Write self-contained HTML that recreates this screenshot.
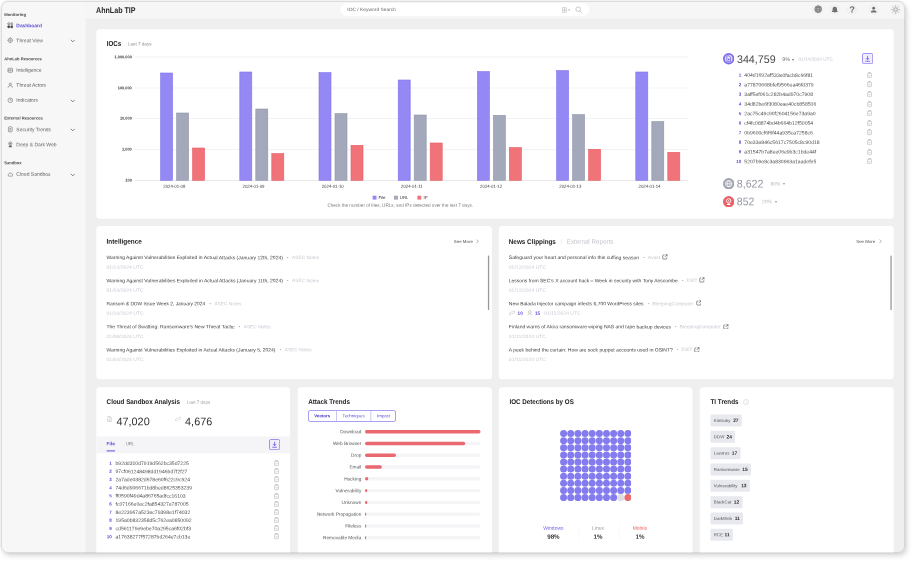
<!DOCTYPE html>
<html lang="en"><head><meta charset="utf-8"><title>AhnLab TIP</title>
<style>
html,body{margin:0;padding:0;background:#fff;}
body{width:912px;height:564px;overflow:hidden;position:relative;font-family:"Liberation Sans",sans-serif;}
#win{will-change:transform;position:absolute;left:1px;top:1px;width:904px;height:552px;background:#efefef;border-radius:7px;overflow:hidden;}
#pg{position:absolute;left:-1px;top:-1px;width:912px;height:564px;}
#shadow{position:absolute;left:1px;top:1px;width:904px;height:552px;border-radius:7px;box-shadow:2px 3px 5px rgba(0,0,0,.15),0 0 2px rgba(0,0,0,.16);}
.b{position:absolute;display:block}
.t{position:absolute;left:0;top:0;white-space:nowrap;line-height:1;transform-origin:0 0;}
#edge{position:absolute;left:1px;top:1px;width:904px;height:552px;box-sizing:border-box;border:1px solid rgba(0,0,0,.10);border-radius:7px;}
</style></head>
<body>
<div id="shadow"></div>
<div id="win"><div id="pg">
<div class="b" style="left:1px;top:1px;width:84px;height:552px;background:#f7f7f7;"></div>
<div class="b" style="left:85px;top:1px;width:1px;height:552px;background:#f3f3f3;"></div>
<div class="b" style="left:85px;top:1px;width:820px;height:17px;background:#f6f6f6;"></div>
<div class="b" style="left:85px;top:18px;width:820px;height:1px;background:#f3f3f3;"></div>
<span class="t" style="font-size:4.1px;color:#4c4c4c;font-weight:700;transform:translate(4.20px,12.90px) rotate(.03deg) scaleX(1.0304);">Monitoring</span>
<span class="t" style="font-size:5.0px;color:#5b4fd6;font-weight:700;transform:translate(16.35px,23.25px) rotate(.03deg) scaleX(0.9799);">Dashboard</span>
<svg class="b" style="left:6.900px;top:22.10px" width="6.600" height="6.600" viewBox="0 0 16 16" fill="none" stroke="#444" stroke-width="1.400"><circle cx="4.300" cy="4.300" r="2.500"/><circle cx="11.700" cy="4.300" r="2.500"/><rect x="2" y="9.400" width="4.600" height="4.600" rx="1" fill="#444"/><rect x="9.400" y="9.400" width="4.600" height="4.600" rx="1" fill="#444"/></svg>
<span class="t" style="font-size:5.0px;color:#5f5f5f;transform:translate(16.35px,38.26px) rotate(.03deg);">Threat View</span>
<svg class="b" style="left:69.6px;top:37.90px" width="5.600" height="5.600" viewBox="0 0 10 10"><path d="M1.500 3.300 L5 6.900 L8.500 3.300" fill="none" stroke="#5a5a5a" stroke-width="1.300"/></svg>
<svg class="b" style="left:6.900px;top:37.10px" width="6.600" height="6.600" viewBox="0 0 16 16" fill="none" stroke="#6a6a6a" stroke-width="1.400"><circle cx="8" cy="8" r="5.200"/><circle cx="8" cy="8" r="1.800"/><path d="M8 1v2M8 13v2M1 8h2M13 8h2"/></svg>
<span class="t" style="font-size:4.1px;color:#4c4c4c;font-weight:700;transform:translate(4.20px,57.30px) rotate(.03deg) scaleX(1.0077);">AhnLab Resources</span>
<span class="t" style="font-size:5.0px;color:#5f5f5f;transform:translate(16.35px,67.86px) rotate(.03deg);">Intelligence</span>
<svg class="b" style="left:6.900px;top:66.70px" width="6.600" height="6.600" viewBox="0 0 16 16" fill="none" stroke="#6a6a6a" stroke-width="1.400"><rect x="3" y="3" width="10" height="10" rx="1.500"/><circle cx="8" cy="8" r="2"/><path d="M1.500 5h1.500M1.500 8h1.500M1.500 11h1.500M13 5h1.500M13 8h1.500M13 11h1.500"/></svg>
<span class="t" style="font-size:5.0px;color:#5f5f5f;transform:translate(16.35px,82.86px) rotate(.03deg);">Threat Actors</span>
<svg class="b" style="left:6.900px;top:81.70px" width="6.600" height="6.600" viewBox="0 0 16 16" fill="none" stroke="#6a6a6a" stroke-width="1.400"><circle cx="8" cy="5.200" r="2.700"/><path d="M2.500 14c0-3.200 2.500-5 5.500-5s5.500 1.800 5.500 5"/></svg>
<span class="t" style="font-size:5.0px;color:#5f5f5f;transform:translate(16.35px,97.86px) rotate(.03deg);">Indicators</span>
<svg class="b" style="left:69.6px;top:97.50px" width="5.600" height="5.600" viewBox="0 0 10 10"><path d="M1.500 3.300 L5 6.900 L8.500 3.300" fill="none" stroke="#5a5a5a" stroke-width="1.300"/></svg>
<svg class="b" style="left:6.900px;top:96.70px" width="6.600" height="6.600" viewBox="0 0 16 16" fill="none" stroke="#6a6a6a" stroke-width="1.400"><circle cx="8" cy="8" r="5.600"/><path d="M8 8V4.500M8 8h3"/></svg>
<span class="t" style="font-size:4.1px;color:#4c4c4c;font-weight:700;transform:translate(4.20px,116.40px) rotate(.03deg) scaleX(1.0122);">External Resources</span>
<span class="t" style="font-size:5.0px;color:#5f5f5f;transform:translate(16.35px,127.16px) rotate(.03deg);">Security Trends</span>
<svg class="b" style="left:69.6px;top:126.80px" width="5.600" height="5.600" viewBox="0 0 10 10"><path d="M1.500 3.300 L5 6.900 L8.500 3.300" fill="none" stroke="#5a5a5a" stroke-width="1.300"/></svg>
<svg class="b" style="left:6.900px;top:126.00px" width="6.600" height="6.600" viewBox="0 0 16 16" fill="none" stroke="#6a6a6a" stroke-width="1.400"><rect x="3.500" y="2" width="9" height="12" rx="1.500"/><path d="M6 6h4M6 9h4M6 11.500h2.500"/></svg>
<span class="t" style="font-size:5.0px;color:#5f5f5f;transform:translate(16.35px,142.26px) rotate(.03deg);">Deep &amp; Dark Web</span>
<svg class="b" style="left:6.900px;top:141.10px" width="6.600" height="6.600" viewBox="0 0 16 16" fill="none" stroke="#6a6a6a" stroke-width="1.400"><circle cx="8" cy="6.300" r="4"/><circle cx="8" cy="6.300" r="1.300" fill="#6a6a6a"/><path d="M4.500 14.500c.5-2.200 1.800-3.400 3.500-3.400s3 1.200 3.500 3.400z" fill="#6a6a6a"/></svg>
<span class="t" style="font-size:4.1px;color:#4c4c4c;font-weight:700;transform:translate(4.20px,161.20px) rotate(.03deg) scaleX(1.0002);">Sandbox</span>
<span class="t" style="font-size:5.0px;color:#5f5f5f;transform:translate(16.35px,171.86px) rotate(.03deg);">Cloud Sandbox</span>
<svg class="b" style="left:69.6px;top:171.50px" width="5.600" height="5.600" viewBox="0 0 10 10"><path d="M1.500 3.300 L5 6.900 L8.500 3.300" fill="none" stroke="#5a5a5a" stroke-width="1.300"/></svg>
<svg class="b" style="left:6.900px;top:170.70px" width="6.600" height="6.600" viewBox="0 0 16 16" fill="none" stroke="#6a6a6a" stroke-width="1.400"><path d="M4.600 12.500h7a2.700 2.700 0 0 0 .4-5.400 4 4 0 0 0-7.700 1A2.300 2.300 0 0 0 4.600 12.500z"/></svg>
<span class="t" style="font-size:8.3px;color:#2a2a2a;font-weight:700;transform:translate(96.00px,5.60px) rotate(.03deg) scaleX(0.8591);">AhnLab TIP</span>
<svg class="b" style="left:340px;top:3px" width="250" height="13"><rect x="0.60" y="0.10" width="248.60" height="12.80" rx="6.4" fill="#fff"/></svg>
<span class="t" style="font-size:4.7px;color:#666;transform:translate(347.30px,8.04px) rotate(.03deg) scaleX(1.0442);">IOC / Keyword Search</span>
<svg class="b" style="left:561.500px;top:6.700px" width="9" height="6" viewBox="0 0 18 12" fill="none" stroke="#bbb" stroke-width="1"><rect x="1" y="1.500" width="8" height="9"/><path d="M1 4.500h8M1 7.500h8M5 1.500v9"/><path d="M12 5l2.200 2.600L16.400 5z" fill="#999" stroke="none"/></svg>
<svg class="b" style="left:575px;top:5.700px" width="7.500" height="7.500" viewBox="0 0 15 15" fill="none" stroke="#aaa" stroke-width="1.200"><circle cx="6.300" cy="6.300" r="4.600"/><path d="M9.800 9.800L13.800 13.800"/></svg>
<svg class="b" style="left:812px;top:3px" width="12" height="12"><rect x="0.30" y="0.90" width="11.00" height="11.00" rx="5.5" fill="#f1f1f1"/></svg>
<svg class="b" style="left:829px;top:3px" width="12" height="12"><rect x="0.30" y="0.90" width="11.00" height="11.00" rx="5.5" fill="#f1f1f1"/></svg>
<svg class="b" style="left:846px;top:3px" width="12" height="12"><rect x="0.50" y="0.90" width="11.00" height="11.00" rx="5.5" fill="#f1f1f1"/></svg>
<svg class="b" style="left:868px;top:3px" width="12" height="12"><rect x="0.20" y="0.90" width="11.00" height="11.00" rx="5.5" fill="#f1f1f1"/></svg>
<svg class="b" style="left:890px;top:3px" width="12" height="12"><rect x="0.10" y="0.90" width="11.00" height="11.00" rx="5.5" fill="#f1f1f1"/></svg>
<svg class="b" style="left:813.700px;top:5.100px" width="8.400" height="8.400" viewBox="0 0 16 16" fill="none" stroke="#7a7a7a" stroke-width="1.500"><circle cx="8" cy="8" r="6.400" fill="#bdbdbd"/><ellipse cx="8" cy="8" rx="2.900" ry="6.400"/><path d="M1.600 8h12.800M2.500 4.600h11M2.500 11.400h11"/></svg>
<svg class="b" style="left:831px;top:5.500px" width="7.600" height="7.800" viewBox="0 0 16 16" fill="#707070"><path d="M8 1.200a4.600 4.600 0 0 0-4.600 4.600v3.400L1.900 11.600v.9h12.200v-.9l-1.500-2.400V5.800A4.600 4.600 0 0 0 8 1.200zM6.400 13.400a1.600 1.600 0 0 0 3.200 0z"/></svg>
<span class="t" style="font-size:8.8px;color:#6a6a6a;font-weight:700;transform-origin:50% 0;transform:translate(852.20px,5.43px) translate(-50%,0) rotate(.03deg);">?</span>
<svg class="b" style="left:870px;top:5.700px" width="7.400" height="7.400" viewBox="0 0 16 16" fill="#707070"><circle cx="8" cy="4.800" r="3.100"/><path d="M1.800 14.200c0-3.300 2.800-5 6.200-5s6.200 1.700 6.200 5z"/></svg>
<svg class="b"  style="left:891.100px;top:4.800px" width="9.200" height="9.200" viewBox="0 0 16 16" fill="none" stroke="#999" stroke-width="1.300"><circle cx="8" cy="8" r="3.300" fill="#e4e4e4"/><path d="M8 .6v2.200M8 13.200v2.200M.6 8h2.200M13.200 8h2.200M2.800 2.800l1.500 1.500M11.700 11.700l1.500 1.500M2.800 13.200l1.500-1.500M11.700 4.300l1.500-1.500"/></svg>
<svg class="b" style="left:96px;top:29px" width="798" height="190"><rect x="0.30" y="0.30" width="797.40" height="189.50" rx="3.5" fill="#fff"/></svg>
<svg class="b" style="left:96px;top:226px" width="396" height="154"><rect x="0.30" y="0.10" width="395.60" height="153.20" rx="3.5" fill="#fff"/></svg>
<svg class="b" style="left:498px;top:226px" width="396" height="154"><rect x="0.80" y="0.10" width="394.90" height="153.20" rx="3.5" fill="#fff"/></svg>
<svg class="b" style="left:96px;top:387px" width="195" height="173"><rect x="0.30" y="0.20" width="193.80" height="172.80" rx="3.5" fill="#fff"/></svg>
<svg class="b" style="left:297px;top:387px" width="195" height="173"><rect x="0.70" y="0.20" width="194.20" height="172.80" rx="3.5" fill="#fff"/></svg>
<svg class="b" style="left:498px;top:387px" width="195" height="173"><rect x="0.80" y="0.20" width="193.60" height="172.80" rx="3.5" fill="#fff"/></svg>
<svg class="b" style="left:699px;top:387px" width="195" height="173"><rect x="0.70" y="0.20" width="194.00" height="172.80" rx="3.5" fill="#fff"/></svg>
<span class="t" style="font-size:7.3px;color:#222;font-weight:700;transform:translate(106.70px,40.12px) rotate(.03deg) scaleX(0.8455);">IOCs</span>
<span class="t" style="font-size:4.6px;color:#8a8a8a;transform:translate(128.00px,42.44px) rotate(.03deg);">Last 7 days</span>
<span class="t" style="font-size:3.9px;color:#333;font-weight:700;transform-origin:100% 0;transform:translate(131.80px,55.27px) translate(-100%,0) rotate(.03deg);">1,000,000</span>
<svg class="b" style="left:135px;top:56px" width="553" height="2"><rect x="0.00" y="0.75" width="553.00" height="0.50" fill="#e6e6e6"/></svg>
<span class="t" style="font-size:3.9px;color:#333;font-weight:700;transform-origin:100% 0;transform:translate(131.80px,86.27px) translate(-100%,0) rotate(.03deg);">100,000</span>
<svg class="b" style="left:135px;top:87px" width="553" height="2"><rect x="0.00" y="0.75" width="553.00" height="0.50" fill="#e6e6e6"/></svg>
<span class="t" style="font-size:3.9px;color:#333;font-weight:700;transform-origin:100% 0;transform:translate(131.80px,116.57px) translate(-100%,0) rotate(.03deg);">10,000</span>
<svg class="b" style="left:135px;top:118px" width="553" height="1"><rect x="0.00" y="0.05" width="553.00" height="0.50" fill="#e6e6e6"/></svg>
<span class="t" style="font-size:3.9px;color:#333;font-weight:700;transform-origin:100% 0;transform:translate(131.80px,147.57px) translate(-100%,0) rotate(.03deg);">1,000</span>
<svg class="b" style="left:135px;top:149px" width="553" height="1"><rect x="0.00" y="0.05" width="553.00" height="0.50" fill="#e6e6e6"/></svg>
<span class="t" style="font-size:3.9px;color:#333;font-weight:700;transform-origin:100% 0;transform:translate(131.80px,178.57px) translate(-100%,0) rotate(.03deg);">100</span>
<svg class="b" style="left:135px;top:180px" width="553" height="1"><rect x="0.00" y="0.05" width="553.00" height="0.50" fill="#d0d0d0"/></svg>
<span class="t" style="font-size:4.3px;color:#333;transform-origin:50% 0;transform:translate(174.30px,184.70px) translate(-50%,0) rotate(.03deg);">2024-01-08</span>
<span class="t" style="font-size:4.3px;color:#333;transform-origin:50% 0;transform:translate(253.50px,184.70px) translate(-50%,0) rotate(.03deg);">2024-01-09</span>
<span class="t" style="font-size:4.3px;color:#333;transform-origin:50% 0;transform:translate(332.70px,184.70px) translate(-50%,0) rotate(.03deg);">2024-01-10</span>
<span class="t" style="font-size:4.3px;color:#333;transform-origin:50% 0;transform:translate(411.90px,184.70px) translate(-50%,0) rotate(.03deg);">2024-01-11</span>
<span class="t" style="font-size:4.3px;color:#333;transform-origin:50% 0;transform:translate(491.10px,184.70px) translate(-50%,0) rotate(.03deg);">2024-01-12</span>
<span class="t" style="font-size:4.3px;color:#333;transform-origin:50% 0;transform:translate(570.30px,184.70px) translate(-50%,0) rotate(.03deg);">2024-01-13</span>
<span class="t" style="font-size:4.3px;color:#333;transform-origin:50% 0;transform:translate(649.50px,184.70px) translate(-50%,0) rotate(.03deg);">2024-01-14</span>
<svg class="b" style="left:0;top:0" width="912" height="200"><rect x="160.60" y="73.00" width="12" height="107.30" fill="#9488f5" stroke="#7f72ee" stroke-width="0.600"/><rect x="176.60" y="113.00" width="12" height="67.30" fill="#a3a8ba" stroke="#9096aa" stroke-width="0.600"/><rect x="192.60" y="148.00" width="12" height="32.30" fill="#f07379" stroke="#e85a62" stroke-width="0.600"/><rect x="239.80" y="72.00" width="12" height="108.30" fill="#9488f5" stroke="#7f72ee" stroke-width="0.600"/><rect x="255.80" y="109.00" width="12" height="71.30" fill="#a3a8ba" stroke="#9096aa" stroke-width="0.600"/><rect x="271.80" y="153.60" width="12" height="26.70" fill="#f07379" stroke="#e85a62" stroke-width="0.600"/><rect x="319.00" y="72.60" width="12" height="107.70" fill="#9488f5" stroke="#7f72ee" stroke-width="0.600"/><rect x="335.00" y="113.60" width="12" height="66.70" fill="#a3a8ba" stroke="#9096aa" stroke-width="0.600"/><rect x="351.00" y="145.30" width="12" height="35.00" fill="#f07379" stroke="#e85a62" stroke-width="0.600"/><rect x="398.20" y="80.00" width="12" height="100.30" fill="#9488f5" stroke="#7f72ee" stroke-width="0.600"/><rect x="414.20" y="115.00" width="12" height="65.30" fill="#a3a8ba" stroke="#9096aa" stroke-width="0.600"/><rect x="430.20" y="143.00" width="12" height="37.30" fill="#f07379" stroke="#e85a62" stroke-width="0.600"/><rect x="477.40" y="71.60" width="12" height="108.70" fill="#9488f5" stroke="#7f72ee" stroke-width="0.600"/><rect x="493.40" y="115.30" width="12" height="65.00" fill="#a3a8ba" stroke="#9096aa" stroke-width="0.600"/><rect x="509.40" y="147.60" width="12" height="32.70" fill="#f07379" stroke="#e85a62" stroke-width="0.600"/><rect x="556.60" y="70.60" width="12" height="109.70" fill="#9488f5" stroke="#7f72ee" stroke-width="0.600"/><rect x="572.60" y="114.60" width="12" height="65.70" fill="#a3a8ba" stroke="#9096aa" stroke-width="0.600"/><rect x="588.60" y="149.30" width="12" height="31.00" fill="#f07379" stroke="#e85a62" stroke-width="0.600"/><rect x="635.80" y="72.00" width="12" height="108.30" fill="#9488f5" stroke="#7f72ee" stroke-width="0.600"/><rect x="651.80" y="121.60" width="12" height="58.70" fill="#a3a8ba" stroke="#9096aa" stroke-width="0.600"/><rect x="667.80" y="152.30" width="12" height="28.00" fill="#f07379" stroke="#e85a62" stroke-width="0.600"/></svg>
<svg class="b" style="left:372px;top:195px" width="5" height="5"><rect x="0.60" y="0.70" width="3.90" height="3.90" fill="#9488f5"/></svg>
<span class="t" style="font-size:4.3px;color:#333;transform:translate(378.40px,196.10px) rotate(.03deg);">File</span>
<svg class="b" style="left:394px;top:195px" width="4" height="5"><rect x="0.00" y="0.70" width="3.90" height="3.90" fill="#a3a8ba"/></svg>
<span class="t" style="font-size:4.3px;color:#333;transform:translate(399.80px,196.10px) rotate(.03deg);">URL</span>
<svg class="b" style="left:417px;top:195px" width="5" height="5"><rect x="0.40" y="0.70" width="3.90" height="3.90" fill="#f07379"/></svg>
<span class="t" style="font-size:4.3px;color:#333;transform:translate(423.50px,196.10px) rotate(.03deg);">IP</span>
<span class="t" style="font-size:4.6px;color:#777;transform:translate(327.40px,203.74px) rotate(.03deg) scaleX(1.0004);">Check the number of files, URLs, and IPs detected over the last 7 days.</span>
<svg class="b" style="left:722.90px;top:53.30px" width="11.4" height="11.4" viewBox="0 0 20 20"><circle cx="10" cy="10" r="10" fill="#7a6bea"/><circle cx="10" cy="10" r="6.800" fill="#ddd8fa"/><path d="M6.800 5h3.800l2.600 2.600v7.400h-6.400z" fill="#efecfd" stroke="#6a5be0" stroke-width="1.300"/><circle cx="10" cy="11.300" r="1.500" fill="#6a5be0"/></svg>
<span class="t" style="font-size:11px;color:#484848;transform:translate(737.00px,53.88px) rotate(.03deg) scaleX(0.9707);">344,759</span>
<span class="t" style="font-size:5.3px;color:#6a6a6a;transform:translate(782.30px,56.98px) rotate(.03deg);">9%</span>
<span class="t" style="font-size:4px;color:#777;transform:translate(791.80px,57.67px) rotate(.03deg);">▾</span>
<span class="t" style="font-size:4.6px;color:#c6c7d1;transform:translate(798.50px,57.74px) rotate(.03deg) scaleX(1.0172);">01/14/2024 UTC</span>
<svg class="b" style="left:861.70px;top:53.20px" width="11.2" height="11.2" viewBox="0 0 22 22"><rect x="1" y="1" width="20" height="20" rx="2.500" fill="#f1effd" stroke="#7a6bea" stroke-width="1.400"/><path d="M11 5.500v7.500M7.800 10l3.200 3.300 3.200-3.300M6.500 16.200h9" fill="none" stroke="#5b4fd6" stroke-width="1.500"/></svg>
<span class="t" style="font-size:4.5px;color:#5b4fd6;font-weight:700;transform-origin:100% 0;transform:translate(741.30px,73.61px) translate(-100%,0) rotate(.03deg);">1</span>
<span class="t" style="font-size:5.1px;color:#505050;transform:translate(744.30px,72.86px) rotate(.03deg);">404d1692af533e0facb8c66f81</span>
<svg class="b" style="left:866.90px;top:71.90px" width="5" height="6.200" viewBox="0 0 10 12.400" fill="none" stroke="#a2a2a2" stroke-width="1"><rect x="1.200" y="2.400" width="7.600" height="9" rx="1.200"/><path d="M3.200 2.400V1.100h3.600v1.300M3.300 7.200l1.300 1.300L6.900 6"/></svg>
<span class="t" style="font-size:4.5px;color:#5b4fd6;font-weight:700;transform-origin:100% 0;transform:translate(741.30px,83.20px) translate(-100%,0) rotate(.03deg);">2</span>
<span class="t" style="font-size:5.1px;color:#505050;transform:translate(744.30px,82.45px) rotate(.03deg);">a77870668bfef9566ea46fd379</span>
<svg class="b" style="left:866.90px;top:81.49px" width="5" height="6.200" viewBox="0 0 10 12.400" fill="none" stroke="#a2a2a2" stroke-width="1"><rect x="1.200" y="2.400" width="7.600" height="9" rx="1.200"/><path d="M3.200 2.400V1.100h3.600v1.300M3.300 7.200l1.300 1.300L6.900 6"/></svg>
<span class="t" style="font-size:4.5px;color:#5b4fd6;font-weight:700;transform-origin:100% 0;transform:translate(741.30px,92.79px) translate(-100%,0) rotate(.03deg);">3</span>
<span class="t" style="font-size:5.1px;color:#505050;transform:translate(744.30px,92.04px) rotate(.03deg);">3aff5ef061c282b4ad970c7908</span>
<svg class="b" style="left:866.90px;top:91.08px" width="5" height="6.200" viewBox="0 0 10 12.400" fill="none" stroke="#a2a2a2" stroke-width="1"><rect x="1.200" y="2.400" width="7.600" height="9" rx="1.200"/><path d="M3.200 2.400V1.100h3.600v1.300M3.300 7.200l1.300 1.300L6.900 6"/></svg>
<span class="t" style="font-size:4.5px;color:#5b4fd6;font-weight:700;transform-origin:100% 0;transform:translate(741.30px,102.38px) translate(-100%,0) rotate(.03deg);">4</span>
<span class="t" style="font-size:5.1px;color:#505050;transform:translate(744.30px,101.63px) rotate(.03deg);">34d82be6f3080eae40cb858506</span>
<svg class="b" style="left:866.90px;top:100.67px" width="5" height="6.200" viewBox="0 0 10 12.400" fill="none" stroke="#a2a2a2" stroke-width="1"><rect x="1.200" y="2.400" width="7.600" height="9" rx="1.200"/><path d="M3.200 2.400V1.100h3.600v1.300M3.300 7.200l1.300 1.300L6.900 6"/></svg>
<span class="t" style="font-size:4.5px;color:#5b4fd6;font-weight:700;transform-origin:100% 0;transform:translate(741.30px,111.97px) translate(-100%,0) rotate(.03deg);">5</span>
<span class="t" style="font-size:5.1px;color:#505050;transform:translate(744.30px,111.22px) rotate(.03deg);">2ac75c49c90f2604156e73a9a0</span>
<svg class="b" style="left:866.90px;top:110.26px" width="5" height="6.200" viewBox="0 0 10 12.400" fill="none" stroke="#a2a2a2" stroke-width="1"><rect x="1.200" y="2.400" width="7.600" height="9" rx="1.200"/><path d="M3.200 2.400V1.100h3.600v1.300M3.300 7.200l1.300 1.300L6.900 6"/></svg>
<span class="t" style="font-size:4.5px;color:#5b4fd6;font-weight:700;transform-origin:100% 0;transform:translate(741.30px,121.56px) translate(-100%,0) rotate(.03deg);">6</span>
<span class="t" style="font-size:5.1px;color:#505050;transform:translate(744.30px,120.81px) rotate(.03deg);">cf4fc08874bd4b664b12f50054</span>
<svg class="b" style="left:866.90px;top:119.85px" width="5" height="6.200" viewBox="0 0 10 12.400" fill="none" stroke="#a2a2a2" stroke-width="1"><rect x="1.200" y="2.400" width="7.600" height="9" rx="1.200"/><path d="M3.200 2.400V1.100h3.600v1.300M3.300 7.200l1.300 1.300L6.900 6"/></svg>
<span class="t" style="font-size:4.5px;color:#5b4fd6;font-weight:700;transform-origin:100% 0;transform:translate(741.30px,131.15px) translate(-100%,0) rotate(.03deg);">7</span>
<span class="t" style="font-size:5.1px;color:#505050;transform:translate(744.30px,130.40px) rotate(.03deg);">0b9600cf6f6f44a935ca7258c6</span>
<svg class="b" style="left:866.90px;top:129.44px" width="5" height="6.200" viewBox="0 0 10 12.400" fill="none" stroke="#a2a2a2" stroke-width="1"><rect x="1.200" y="2.400" width="7.600" height="9" rx="1.200"/><path d="M3.200 2.400V1.100h3.600v1.300M3.300 7.200l1.300 1.300L6.900 6"/></svg>
<span class="t" style="font-size:4.5px;color:#5b4fd6;font-weight:700;transform-origin:100% 0;transform:translate(741.30px,140.74px) translate(-100%,0) rotate(.03deg);">8</span>
<span class="t" style="font-size:5.1px;color:#505050;transform:translate(744.30px,139.99px) rotate(.03deg);">70e33e846c5617c7505c8c90d18</span>
<svg class="b" style="left:866.90px;top:139.03px" width="5" height="6.200" viewBox="0 0 10 12.400" fill="none" stroke="#a2a2a2" stroke-width="1"><rect x="1.200" y="2.400" width="7.600" height="9" rx="1.200"/><path d="M3.200 2.400V1.100h3.600v1.300M3.300 7.200l1.300 1.300L6.900 6"/></svg>
<span class="t" style="font-size:4.5px;color:#5b4fd6;font-weight:700;transform-origin:100% 0;transform:translate(741.30px,150.33px) translate(-100%,0) rotate(.03deg);">9</span>
<span class="t" style="font-size:5.1px;color:#505050;transform:translate(744.30px,149.58px) rotate(.03deg);">a31547b7a8ee06e9b3c1bde44f</span>
<svg class="b" style="left:866.90px;top:148.62px" width="5" height="6.200" viewBox="0 0 10 12.400" fill="none" stroke="#a2a2a2" stroke-width="1"><rect x="1.200" y="2.400" width="7.600" height="9" rx="1.200"/><path d="M3.200 2.400V1.100h3.600v1.300M3.300 7.200l1.300 1.300L6.900 6"/></svg>
<span class="t" style="font-size:4.5px;color:#5b4fd6;font-weight:700;transform-origin:100% 0;transform:translate(741.30px,159.92px) translate(-100%,0) rotate(.03deg);">10</span>
<span class="t" style="font-size:5.1px;color:#505050;transform:translate(744.30px,159.17px) rotate(.03deg);">5207b9e8c3a830963a1aadefe5</span>
<svg class="b" style="left:866.90px;top:158.21px" width="5" height="6.200" viewBox="0 0 10 12.400" fill="none" stroke="#a2a2a2" stroke-width="1"><rect x="1.200" y="2.400" width="7.600" height="9" rx="1.200"/><path d="M3.200 2.400V1.100h3.600v1.300M3.300 7.200l1.300 1.300L6.900 6"/></svg>
<svg class="b" style="left:722.80px;top:177.90px" width="11.4" height="11.4" viewBox="0 0 20 20"><circle cx="10" cy="10" r="10" fill="#a0a5af"/><circle cx="10" cy="10" r="5.500" fill="none" stroke="#fff" stroke-width="1.400"/><path d="M4.500 10h11M10 4.500c-3 3-3 8 0 11M10 4.500c3 3 3 8 0 11" fill="none" stroke="#fff" stroke-width="1.100"/></svg>
<span class="t" style="font-size:11px;color:#979ba5;transform:translate(736.80px,178.48px) rotate(.03deg) scaleX(0.9698);">8,622</span>
<span class="t" style="font-size:5.0px;color:#bababa;transform:translate(770.40px,181.46px) rotate(.03deg);">80%</span>
<span class="t" style="font-size:4px;color:#999;transform:translate(783.30px,182.27px) rotate(.03deg);">▾</span>
<svg class="b" style="left:722.70px;top:195.60px" width="11.4" height="11.4" viewBox="0 0 20 20"><circle cx="10" cy="10" r="10" fill="#ea6268"/><circle cx="10" cy="8.500" r="3.800" fill="none" stroke="#fff" stroke-width="1.500"/><circle cx="10" cy="8.500" r="1.200" fill="#fff"/><path d="M6.500 16c.6-2 1.800-3 3.500-3s2.900 1 3.500 3z" fill="#fff"/></svg>
<span class="t" style="font-size:11px;color:#979ba5;transform:translate(736.80px,196.18px) rotate(.03deg) scaleX(0.9532);">852</span>
<span class="t" style="font-size:5.0px;color:#bababa;transform:translate(761.90px,199.16px) rotate(.03deg);">20%</span>
<span class="t" style="font-size:4px;color:#999;transform:translate(774.60px,199.97px) rotate(.03deg);">▾</span>
<span class="t" style="font-size:6.9px;color:#222;font-weight:700;transform:translate(106.50px,238.78px) rotate(.03deg) scaleX(0.9335);">Intelligence</span>
<span class="t" style="font-size:4.3px;color:#555;transform:translate(453.80px,239.90px) rotate(.03deg) scaleX(1.0246);">See More</span>
<svg class="b" style="left:476.10px;top:239.20px" width="3" height="4.600" viewBox="0 0 6 9"><path d="M1.200 1l3.400 3.500L1.200 8" fill="none" stroke="#666" stroke-width="1"/></svg>
<svg class="b" style="left:487px;top:255px" width="3" height="55"><rect x="0.90" y="0.60" width="1.30" height="54.40" rx="0.6" fill="#999"/></svg>
<span class="t" style="font-size:4.9px;color:#3a3a3a;transform:translate(106.50px,256.07px) rotate(.03deg) scaleX(1.0256);">Warning Against Vulnerabilities Exploited in Actual Attacks (January 12th, 2024)</span>
<span class="t" style="font-size:4px;color:#999;transform:translate(287.10px,255.77px) rotate(.03deg);">•</span>
<span class="t" style="font-size:4.7px;color:#c6c7d1;transform:translate(292.10px,256.04px) rotate(.03deg) scaleX(1.0261);">ASEC Notes</span>
<span class="t" style="font-size:4.7px;color:#c9cad3;transform:translate(106.50px,265.64px) rotate(.03deg) scaleX(1.0841);">01/12/2024 UTC</span>
<span class="t" style="font-size:4.9px;color:#3a3a3a;transform:translate(106.50px,279.15px) rotate(.03deg) scaleX(1.0277);">Warning Against Vulnerabilities Exploited in Actual Attacks (January 11th, 2024)</span>
<span class="t" style="font-size:4px;color:#999;transform:translate(287.10px,278.85px) rotate(.03deg);">•</span>
<span class="t" style="font-size:4.7px;color:#c6c7d1;transform:translate(292.10px,279.12px) rotate(.03deg) scaleX(1.0261);">ASEC Notes</span>
<span class="t" style="font-size:4.7px;color:#c9cad3;transform:translate(106.50px,288.72px) rotate(.03deg) scaleX(1.0841);">01/10/2024 UTC</span>
<span class="t" style="font-size:4.9px;color:#3a3a3a;transform:translate(106.50px,302.23px) rotate(.03deg) scaleX(0.9957);">Ransom &amp; DDW Issue Week 2, January 2024</span>
<span class="t" style="font-size:4px;color:#999;transform:translate(209.40px,301.93px) rotate(.03deg);">•</span>
<span class="t" style="font-size:4.7px;color:#c6c7d1;transform:translate(214.40px,302.20px) rotate(.03deg) scaleX(1.0261);">ASEC Notes</span>
<span class="t" style="font-size:4.7px;color:#c9cad3;transform:translate(106.50px,311.80px) rotate(.03deg) scaleX(1.0841);">01/10/2024 UTC</span>
<span class="t" style="font-size:4.9px;color:#3a3a3a;transform:translate(106.50px,325.31px) rotate(.03deg) scaleX(1.0266);">The Threat of Swatting: Ransomware’s New Threat Tactic</span>
<span class="t" style="font-size:4px;color:#999;transform:translate(238.70px,325.01px) rotate(.03deg);">•</span>
<span class="t" style="font-size:4.7px;color:#c6c7d1;transform:translate(243.70px,325.28px) rotate(.03deg) scaleX(1.0261);">ASEC Notes</span>
<span class="t" style="font-size:4.7px;color:#c9cad3;transform:translate(106.50px,334.88px) rotate(.03deg) scaleX(1.0841);">01/08/2024 UTC</span>
<span class="t" style="font-size:4.9px;color:#3a3a3a;transform:translate(106.50px,348.39px) rotate(.03deg) scaleX(1.0230);">Warning Against Vulnerabilities Exploited in Actual Attacks (January 5, 2024)</span>
<span class="t" style="font-size:4px;color:#999;transform:translate(279.70px,348.09px) rotate(.03deg);">•</span>
<span class="t" style="font-size:4.7px;color:#c6c7d1;transform:translate(284.70px,348.36px) rotate(.03deg) scaleX(1.0261);">ASEC Notes</span>
<span class="t" style="font-size:4.7px;color:#c9cad3;transform:translate(106.50px,357.96px) rotate(.03deg) scaleX(1.0841);">01/04/2024 UTC</span>
<span class="t" style="font-size:6.9px;color:#222;font-weight:700;transform:translate(508.80px,238.78px) rotate(.03deg) scaleX(0.9179);">News Clippings</span>
<svg class="b" style="left:561px;top:239px" width="1" height="5"><rect x="0.00" y="0.00" width="0.50" height="5.00" fill="#ddd"/></svg>
<span class="t" style="font-size:6.5px;color:#c4c5cd;transform:translate(566.80px,238.64px) rotate(.03deg) scaleX(0.9624);">External Reports</span>
<span class="t" style="font-size:4.3px;color:#555;transform:translate(856.20px,239.90px) rotate(.03deg) scaleX(1.0246);">See More</span>
<svg class="b" style="left:878.50px;top:239.20px" width="3" height="4.600" viewBox="0 0 6 9"><path d="M1.200 1l3.400 3.500L1.200 8" fill="none" stroke="#666" stroke-width="1"/></svg>
<svg class="b" style="left:890px;top:255px" width="2" height="55"><rect x="0.40" y="0.60" width="1.30" height="54.40" rx="0.6" fill="#999"/></svg>
<span class="t" style="font-size:4.9px;color:#3a3a3a;transform:translate(508.80px,256.07px) rotate(.03deg) scaleX(1.0284);">Safeguard your heart and personal info this cuffing season</span>
<span class="t" style="font-size:4px;color:#999;transform:translate(643.20px,255.77px) rotate(.03deg);">•</span>
<span class="t" style="font-size:4.7px;color:#c6c7d1;transform:translate(647.70px,256.04px) rotate(.03deg) scaleX(1.0738);">Avast</span>
<svg class="b" style="left:662.30px;top:254.30px" width="5.800" height="5.800" viewBox="0 0 12 12" fill="none" stroke="#444" stroke-width="1.200"><path d="M5 2H3a1.500 1.500 0 0 0-1.500 1.500v5.500A1.500 1.500 0 0 0 3 10.500h5.500A1.500 1.500 0 0 0 10 9V7"/><path d="M7 1.500h3.500V5M10.500 1.500L5.800 6.200"/></svg>
<span class="t" style="font-size:4.7px;color:#c9cad3;transform:translate(508.80px,265.64px) rotate(.03deg) scaleX(1.0841);">01/12/2024 UTC</span>
<span class="t" style="font-size:4.9px;color:#3a3a3a;transform:translate(508.80px,279.15px) rotate(.03deg) scaleX(1.0175);">Lessons from SEC’s X account hack – Week in security with Tony Anscombe</span>
<span class="t" style="font-size:4px;color:#999;transform:translate(682.00px,278.85px) rotate(.03deg);">•</span>
<span class="t" style="font-size:4.7px;color:#c6c7d1;transform:translate(686.50px,279.12px) rotate(.03deg) scaleX(0.8816);">ESET</span>
<svg class="b" style="left:699.40px;top:277.38px" width="5.800" height="5.800" viewBox="0 0 12 12" fill="none" stroke="#444" stroke-width="1.200"><path d="M5 2H3a1.500 1.500 0 0 0-1.500 1.500v5.500A1.500 1.500 0 0 0 3 10.500h5.500A1.500 1.500 0 0 0 10 9V7"/><path d="M7 1.500h3.500V5M10.500 1.500L5.800 6.200"/></svg>
<span class="t" style="font-size:4.7px;color:#c9cad3;transform:translate(508.80px,288.72px) rotate(.03deg) scaleX(1.0841);">01/12/2024 UTC</span>
<span class="t" style="font-size:4.9px;color:#3a3a3a;transform:translate(508.80px,302.23px) rotate(.03deg) scaleX(1.0182);">New Balada Injector campaign infects 6,700 WordPress sites</span>
<span class="t" style="font-size:4px;color:#999;transform:translate(647.70px,301.93px) rotate(.03deg);">•</span>
<span class="t" style="font-size:4.7px;color:#c6c7d1;transform:translate(652.20px,302.20px) rotate(.03deg) scaleX(1.0611);">BleepingComputer</span>
<svg class="b" style="left:695.50px;top:300.46px" width="5.800" height="5.800" viewBox="0 0 12 12" fill="none" stroke="#444" stroke-width="1.200"><path d="M5 2H3a1.500 1.500 0 0 0-1.500 1.500v5.500A1.500 1.500 0 0 0 3 10.500h5.500A1.500 1.500 0 0 0 10 9V7"/><path d="M7 1.500h3.500V5M10.500 1.500L5.800 6.200"/></svg>
<svg class="b" style="left:509.00px;top:310.46px" width="6" height="5.600" viewBox="0 0 12 11" fill="none" stroke="#aaa" stroke-width="1.100"><path d="M5 7.500L3.500 9a1.800 1.800 0 0 1-2.500-2.500L3 4.500a1.800 1.800 0 0 1 2.500 0M7 3.500L8.500 2a1.800 1.800 0 0 1 2.500 2.500L9 6.500a1.800 1.800 0 0 1-2.500 0"/></svg>
<span class="t" style="font-size:4.6px;color:#5b4fd6;font-weight:700;transform:translate(517.60px,311.79px) rotate(.03deg);">10</span>
<svg class="b" style="left:527.00px;top:310.36px" width="5.600" height="5.800" viewBox="0 0 11 12" fill="none" stroke="#aaa" stroke-width="1.100"><circle cx="5.500" cy="4" r="2.800"/><path d="M1.500 11c.5-2.200 2-3.300 4-3.300s3.500 1.100 4 3.300"/></svg>
<span class="t" style="font-size:4.6px;color:#5b4fd6;font-weight:700;transform:translate(535.00px,311.79px) rotate(.03deg);">15</span>
<span class="t" style="font-size:4.7px;color:#c9cad3;transform:translate(544.20px,311.80px) rotate(.03deg) scaleX(1.0716);">01/11/2024 UTC</span>
<span class="t" style="font-size:4.9px;color:#3a3a3a;transform:translate(508.80px,325.31px) rotate(.03deg) scaleX(1.0228);">Finland warns of Akira ransomware wiping NAS and tape backup devices</span>
<span class="t" style="font-size:4px;color:#999;transform:translate(675.10px,325.01px) rotate(.03deg);">•</span>
<span class="t" style="font-size:4.7px;color:#c6c7d1;transform:translate(679.60px,325.28px) rotate(.03deg) scaleX(1.0611);">BleepingComputer</span>
<svg class="b" style="left:722.90px;top:323.54px" width="5.800" height="5.800" viewBox="0 0 12 12" fill="none" stroke="#444" stroke-width="1.200"><path d="M5 2H3a1.500 1.500 0 0 0-1.500 1.500v5.500A1.500 1.500 0 0 0 3 10.500h5.500A1.500 1.500 0 0 0 10 9V7"/><path d="M7 1.500h3.500V5M10.500 1.500L5.800 6.200"/></svg>
<span class="t" style="font-size:4.7px;color:#c9cad3;transform:translate(508.80px,334.88px) rotate(.03deg) scaleX(1.0950);">01/11/2024 UTC</span>
<span class="t" style="font-size:4.9px;color:#3a3a3a;transform:translate(508.80px,348.39px) rotate(.03deg) scaleX(1.0189);">A peek behind the curtain: How are sock puppet accounts used in OSINT?</span>
<span class="t" style="font-size:4px;color:#999;transform:translate(677.00px,348.09px) rotate(.03deg);">•</span>
<span class="t" style="font-size:4.7px;color:#c6c7d1;transform:translate(681.50px,348.36px) rotate(.03deg) scaleX(0.8816);">ESET</span>
<svg class="b" style="left:694.40px;top:346.62px" width="5.800" height="5.800" viewBox="0 0 12 12" fill="none" stroke="#444" stroke-width="1.200"><path d="M5 2H3a1.500 1.500 0 0 0-1.500 1.500v5.500A1.500 1.500 0 0 0 3 10.500h5.500A1.500 1.500 0 0 0 10 9V7"/><path d="M7 1.500h3.500V5M10.500 1.500L5.800 6.200"/></svg>
<span class="t" style="font-size:4.7px;color:#c9cad3;transform:translate(508.80px,357.96px) rotate(.03deg) scaleX(1.0950);">01/11/2024 UTC</span>
<span class="t" style="font-size:6.9px;color:#222;font-weight:700;transform:translate(106.60px,399.28px) rotate(.03deg) scaleX(0.9114);">Cloud Sandbox Analysis</span>
<span class="t" style="font-size:4.6px;color:#999;transform:translate(186.70px,400.74px) rotate(.03deg) scaleX(1.0043);">Last 7 days</span>
<svg class="b" style="left:107.30px;top:416.00px" width="5" height="6" viewBox="0 0 10 12" fill="none" stroke="#bbb" stroke-width="1.100"><path d="M1.500 1h4.500l2.500 2.500V11h-7zM6 1v2.500h2.500M3.500 6.500h3M3.500 8.500h3"/></svg>
<span class="t" style="font-size:11px;color:#333;transform:translate(116.50px,416.28px) rotate(.03deg) scaleX(0.9864);">47,020</span>
<svg class="b" style="left:175.30px;top:416.00px" width="6" height="6" viewBox="0 0 12 12" fill="none" stroke="#bbb" stroke-width="1.100"><path d="M5 8L3.500 9.500a1.800 1.800 0 0 1-2.500-2.500L3 5a1.800 1.800 0 0 1 2.500 0M7 4L8.500 2.500a1.800 1.800 0 0 1 2.500 2.500L9 7a1.800 1.800 0 0 1-2.500 0"/></svg>
<span class="t" style="font-size:11px;color:#333;transform:translate(185.10px,416.28px) rotate(.03deg) scaleX(0.9843);">4,676</span>
<svg class="b" style="left:96px;top:436px" width="195" height="18"><rect x="0.30" y="0.30" width="193.80" height="17.10" fill="#f5f5f8"/></svg>
<span class="t" style="font-size:4.7px;color:#5b4fd6;font-weight:700;transform:translate(106.60px,442.33px) rotate(.03deg) scaleX(1.0275);">File</span>
<svg class="b" style="left:106px;top:450px" width="9" height="2"><rect x="0.60" y="0.40" width="8.40" height="1.00" fill="#5b4fd6"/></svg>
<span class="t" style="font-size:4.7px;color:#888;transform:translate(125.70px,442.34px) rotate(.03deg) scaleX(0.9371);">URL</span>
<svg class="b" style="left:268.90px;top:439.10px" width="11.2" height="11.2" viewBox="0 0 22 22"><rect x="1" y="1" width="20" height="20" rx="2.500" fill="#f1effd" stroke="#7a6bea" stroke-width="1.400"/><path d="M11 5.500v7.500M7.800 10l3.200 3.300 3.200-3.300M6.500 16.200h9" fill="none" stroke="#5b4fd6" stroke-width="1.500"/></svg>
<span class="t" style="font-size:4.5px;color:#5b4fd6;font-weight:700;transform-origin:100% 0;transform:translate(111.80px,461.71px) translate(-100%,0) rotate(.03deg);">1</span>
<span class="t" style="font-size:5.1px;color:#505050;transform:translate(115.50px,460.96px) rotate(.03deg);">b92dd310d7919d562bc35d7225</span>
<svg class="b" style="left:274.00px;top:460.00px" width="5" height="6.200" viewBox="0 0 10 12.400" fill="none" stroke="#a2a2a2" stroke-width="1"><rect x="1.200" y="2.400" width="7.600" height="9" rx="1.200"/><path d="M3.200 2.400V1.100h3.600v1.300M3.300 7.200l1.300 1.300L6.900 6"/></svg>
<span class="t" style="font-size:4.5px;color:#5b4fd6;font-weight:700;transform-origin:100% 0;transform:translate(111.80px,469.87px) translate(-100%,0) rotate(.03deg);">2</span>
<span class="t" style="font-size:5.1px;color:#505050;transform:translate(115.50px,469.12px) rotate(.03deg);">97cf061248498dd1946bd7f2f27</span>
<svg class="b" style="left:274.00px;top:468.16px" width="5" height="6.200" viewBox="0 0 10 12.400" fill="none" stroke="#a2a2a2" stroke-width="1"><rect x="1.200" y="2.400" width="7.600" height="9" rx="1.200"/><path d="M3.200 2.400V1.100h3.600v1.300M3.300 7.200l1.300 1.300L6.900 6"/></svg>
<span class="t" style="font-size:4.5px;color:#5b4fd6;font-weight:700;transform-origin:100% 0;transform:translate(111.80px,478.03px) translate(-100%,0) rotate(.03deg);">3</span>
<span class="t" style="font-size:5.1px;color:#505050;transform:translate(115.50px,477.28px) rotate(.03deg);">2a7ade0382d678e60f622c9c924</span>
<svg class="b" style="left:274.00px;top:476.32px" width="5" height="6.200" viewBox="0 0 10 12.400" fill="none" stroke="#a2a2a2" stroke-width="1"><rect x="1.200" y="2.400" width="7.600" height="9" rx="1.200"/><path d="M3.200 2.400V1.100h3.600v1.300M3.300 7.200l1.300 1.300L6.900 6"/></svg>
<span class="t" style="font-size:4.5px;color:#5b4fd6;font-weight:700;transform-origin:100% 0;transform:translate(111.80px,486.19px) translate(-100%,0) rotate(.03deg);">4</span>
<span class="t" style="font-size:5.1px;color:#505050;transform:translate(115.50px,485.44px) rotate(.03deg);">74d6d906671bd8bed8625353239</span>
<svg class="b" style="left:274.00px;top:484.48px" width="5" height="6.200" viewBox="0 0 10 12.400" fill="none" stroke="#a2a2a2" stroke-width="1"><rect x="1.200" y="2.400" width="7.600" height="9" rx="1.200"/><path d="M3.200 2.400V1.100h3.600v1.300M3.300 7.200l1.300 1.300L6.900 6"/></svg>
<span class="t" style="font-size:4.5px;color:#5b4fd6;font-weight:700;transform-origin:100% 0;transform:translate(111.80px,494.35px) translate(-100%,0) rotate(.03deg);">5</span>
<span class="t" style="font-size:5.1px;color:#505050;transform:translate(115.50px,493.60px) rotate(.03deg);">ff0590f49d4a86765adfcc16103</span>
<svg class="b" style="left:274.00px;top:492.64px" width="5" height="6.200" viewBox="0 0 10 12.400" fill="none" stroke="#a2a2a2" stroke-width="1"><rect x="1.200" y="2.400" width="7.600" height="9" rx="1.200"/><path d="M3.200 2.400V1.100h3.600v1.300M3.300 7.200l1.300 1.300L6.900 6"/></svg>
<span class="t" style="font-size:4.5px;color:#5b4fd6;font-weight:700;transform-origin:100% 0;transform:translate(111.80px,502.51px) translate(-100%,0) rotate(.03deg);">6</span>
<span class="t" style="font-size:5.1px;color:#505050;transform:translate(115.50px,501.76px) rotate(.03deg);">fc07166e0ec2fa854327e787005</span>
<svg class="b" style="left:274.00px;top:500.80px" width="5" height="6.200" viewBox="0 0 10 12.400" fill="none" stroke="#a2a2a2" stroke-width="1"><rect x="1.200" y="2.400" width="7.600" height="9" rx="1.200"/><path d="M3.200 2.400V1.100h3.600v1.300M3.300 7.200l1.300 1.300L6.900 6"/></svg>
<span class="t" style="font-size:4.5px;color:#5b4fd6;font-weight:700;transform-origin:100% 0;transform:translate(111.80px,510.67px) translate(-100%,0) rotate(.03deg);">7</span>
<span class="t" style="font-size:5.1px;color:#505050;transform:translate(115.50px,509.92px) rotate(.03deg);">8e223967a523ec79398e1f74032</span>
<svg class="b" style="left:274.00px;top:508.96px" width="5" height="6.200" viewBox="0 0 10 12.400" fill="none" stroke="#a2a2a2" stroke-width="1"><rect x="1.200" y="2.400" width="7.600" height="9" rx="1.200"/><path d="M3.200 2.400V1.100h3.600v1.300M3.300 7.200l1.300 1.300L6.900 6"/></svg>
<span class="t" style="font-size:4.5px;color:#5b4fd6;font-weight:700;transform-origin:100% 0;transform:translate(111.80px,518.83px) translate(-100%,0) rotate(.03deg);">8</span>
<span class="t" style="font-size:5.1px;color:#505050;transform:translate(115.50px,518.08px) rotate(.03deg);">195a0b832358d5c762ea0850092</span>
<svg class="b" style="left:274.00px;top:517.12px" width="5" height="6.200" viewBox="0 0 10 12.400" fill="none" stroke="#a2a2a2" stroke-width="1"><rect x="1.200" y="2.400" width="7.600" height="9" rx="1.200"/><path d="M3.200 2.400V1.100h3.600v1.300M3.300 7.200l1.300 1.300L6.900 6"/></svg>
<span class="t" style="font-size:4.5px;color:#5b4fd6;font-weight:700;transform-origin:100% 0;transform:translate(111.80px,526.99px) translate(-100%,0) rotate(.03deg);">9</span>
<span class="t" style="font-size:5.1px;color:#505050;transform:translate(115.50px,526.24px) rotate(.03deg);">cd561179e9ebe70a295ca6f02bf3</span>
<svg class="b" style="left:274.00px;top:525.28px" width="5" height="6.200" viewBox="0 0 10 12.400" fill="none" stroke="#a2a2a2" stroke-width="1"><rect x="1.200" y="2.400" width="7.600" height="9" rx="1.200"/><path d="M3.200 2.400V1.100h3.600v1.300M3.300 7.200l1.300 1.300L6.900 6"/></svg>
<span class="t" style="font-size:4.5px;color:#5b4fd6;font-weight:700;transform-origin:100% 0;transform:translate(111.80px,535.15px) translate(-100%,0) rotate(.03deg);">10</span>
<span class="t" style="font-size:5.1px;color:#505050;transform:translate(115.50px,534.40px) rotate(.03deg);">a17638277f57287bd264e7cb13e</span>
<svg class="b" style="left:274.00px;top:533.44px" width="5" height="6.200" viewBox="0 0 10 12.400" fill="none" stroke="#a2a2a2" stroke-width="1"><rect x="1.200" y="2.400" width="7.600" height="9" rx="1.200"/><path d="M3.200 2.400V1.100h3.600v1.300M3.300 7.200l1.300 1.300L6.900 6"/></svg>
<span class="t" style="font-size:6.9px;color:#222;font-weight:700;transform:translate(308.20px,399.28px) rotate(.03deg) scaleX(0.9171);">Attack Trends</span>
<div class="b" style="left:307.90px;top:410.00px;width:88.400px;height:11.500px;box-sizing:border-box;border:0.600px solid #a9a1f1;border-radius:2px;background:#fff"></div>
<svg class="b" style="left:336px;top:410px" width="1" height="12"><rect x="0.40" y="0.00" width="0.60" height="11.50" fill="#a9a1f1"/></svg>
<svg class="b" style="left:370px;top:410px" width="2" height="12"><rect x="0.60" y="0.00" width="0.60" height="11.50" fill="#a9a1f1"/></svg>
<span class="t" style="font-size:4.4px;color:#3d31b8;font-weight:700;transform-origin:50% 0;transform:translate(322.20px,414.21px) translate(-50%,0) rotate(.03deg);">Vectors</span>
<span class="t" style="font-size:4.4px;color:#5b4fd6;transform-origin:50% 0;transform:translate(353.60px,414.23px) translate(-50%,0) rotate(.03deg);">Techniques</span>
<span class="t" style="font-size:4.4px;color:#5b4fd6;transform-origin:50% 0;transform:translate(383.60px,414.23px) translate(-50%,0) rotate(.03deg);">Impact</span>
<span class="t" style="font-size:4.75px;color:#555;transform-origin:100% 0;transform:translate(361.30px,430.27px) translate(-100%,0) rotate(.03deg);">Download</span>
<svg class="b" style="left:365px;top:430px" width="116" height="4"><rect x="0.00" y="0.00" width="115.50" height="3.40" rx="1.7" fill="#f5f5f7"/></svg>
<svg class="b" style="left:365px;top:430px" width="116" height="4"><rect x="0.00" y="0.00" width="115.50" height="3.40" rx="1.7" fill="#ea6870"/></svg>
<span class="t" style="font-size:4.75px;color:#555;transform-origin:100% 0;transform:translate(361.30px,442.05px) translate(-100%,0) rotate(.03deg);">Web Browser</span>
<svg class="b" style="left:365px;top:441px" width="116" height="5"><rect x="0.00" y="0.78" width="115.50" height="3.40" rx="1.7" fill="#f5f5f7"/></svg>
<svg class="b" style="left:365px;top:441px" width="101" height="5"><rect x="0.00" y="0.78" width="100.20" height="3.40" rx="1.7" fill="#ea6870"/></svg>
<span class="t" style="font-size:4.75px;color:#555;transform-origin:100% 0;transform:translate(361.30px,453.83px) translate(-100%,0) rotate(.03deg);">Drop</span>
<svg class="b" style="left:365px;top:453px" width="116" height="4"><rect x="0.00" y="0.56" width="115.50" height="3.40" rx="1.7" fill="#f5f5f7"/></svg>
<svg class="b" style="left:365px;top:453px" width="31" height="4"><rect x="0.00" y="0.56" width="31.00" height="3.40" rx="1.7" fill="#ea6870"/></svg>
<span class="t" style="font-size:4.75px;color:#555;transform-origin:100% 0;transform:translate(361.30px,465.61px) translate(-100%,0) rotate(.03deg);">Email</span>
<svg class="b" style="left:365px;top:465px" width="116" height="4"><rect x="0.00" y="0.34" width="115.50" height="3.40" rx="1.7" fill="#f5f5f7"/></svg>
<svg class="b" style="left:365px;top:465px" width="17" height="4"><rect x="0.00" y="0.34" width="16.90" height="3.40" rx="1.7" fill="#ea6870"/></svg>
<span class="t" style="font-size:4.75px;color:#555;transform-origin:100% 0;transform:translate(361.30px,477.39px) translate(-100%,0) rotate(.03deg);">Hacking</span>
<svg class="b" style="left:365px;top:477px" width="116" height="4"><rect x="0.00" y="0.12" width="115.50" height="3.40" rx="1.7" fill="#f5f5f7"/></svg>
<svg class="b" style="left:365px;top:477px" width="4" height="4"><rect x="0.00" y="0.12" width="3.30" height="3.40" rx="1.7" fill="#ea6870"/></svg>
<span class="t" style="font-size:4.75px;color:#555;transform-origin:100% 0;transform:translate(361.30px,489.17px) translate(-100%,0) rotate(.03deg);">Vulnerability</span>
<svg class="b" style="left:365px;top:488px" width="116" height="5"><rect x="0.00" y="0.90" width="115.50" height="3.40" rx="1.7" fill="#f5f5f7"/></svg>
<svg class="b" style="left:365px;top:488px" width="3" height="5"><rect x="0.00" y="0.90" width="2.30" height="3.40" rx="1.7" fill="#ea6870"/></svg>
<span class="t" style="font-size:4.75px;color:#555;transform-origin:100% 0;transform:translate(361.30px,500.95px) translate(-100%,0) rotate(.03deg);">Unknown</span>
<svg class="b" style="left:365px;top:500px" width="116" height="5"><rect x="0.00" y="0.68" width="115.50" height="3.40" rx="1.7" fill="#f5f5f7"/></svg>
<svg class="b" style="left:365px;top:500px" width="3" height="5"><rect x="0.00" y="0.68" width="2.30" height="3.40" rx="1.7" fill="#ea6870"/></svg>
<span class="t" style="font-size:4.75px;color:#555;transform-origin:100% 0;transform:translate(361.30px,512.73px) translate(-100%,0) rotate(.03deg);">Network Propagation</span>
<svg class="b" style="left:365px;top:512px" width="116" height="4"><rect x="0.00" y="0.46" width="115.50" height="3.40" rx="1.7" fill="#f5f5f7"/></svg>
<svg class="b" style="left:365px;top:512px" width="2" height="4"><rect x="0.00" y="0.46" width="1.20" height="3.40" rx="1.7" fill="#ea6870"/></svg>
<span class="t" style="font-size:4.75px;color:#555;transform-origin:100% 0;transform:translate(361.30px,524.51px) translate(-100%,0) rotate(.03deg);">Fileless</span>
<svg class="b" style="left:365px;top:524px" width="116" height="4"><rect x="0.00" y="0.24" width="115.50" height="3.40" rx="1.7" fill="#f5f5f7"/></svg>
<svg class="b" style="left:365px;top:524px" width="2" height="4"><rect x="0.00" y="0.24" width="1.20" height="3.40" rx="1.7" fill="#ea6870"/></svg>
<span class="t" style="font-size:4.75px;color:#555;transform-origin:100% 0;transform:translate(361.30px,536.29px) translate(-100%,0) rotate(.03deg);">Removable Media</span>
<svg class="b" style="left:365px;top:536px" width="116" height="4"><rect x="0.00" y="0.02" width="115.50" height="3.40" rx="1.7" fill="#f5f5f7"/></svg>
<svg class="b" style="left:365px;top:536px" width="2" height="4"><rect x="0.00" y="0.02" width="1.20" height="3.40" rx="1.7" fill="#ea6870"/></svg>
<span class="t" style="font-size:6.9px;color:#222;font-weight:700;transform:translate(509.40px,399.28px) rotate(.03deg) scaleX(0.9043);">IOC Detections by OS</span>
<svg class="b" style="left:559.80px;top:429.50px" width="71.500" height="71.200" viewBox="0 0 71.500 71.200"><circle cx="3.58" cy="3.56" r="3.500" fill="#837bee"/><circle cx="10.73" cy="3.56" r="3.500" fill="#837bee"/><circle cx="17.88" cy="3.56" r="3.500" fill="#837bee"/><circle cx="25.03" cy="3.56" r="3.500" fill="#837bee"/><circle cx="32.18" cy="3.56" r="3.500" fill="#837bee"/><circle cx="39.33" cy="3.56" r="3.500" fill="#837bee"/><circle cx="46.48" cy="3.56" r="3.500" fill="#837bee"/><circle cx="53.63" cy="3.56" r="3.500" fill="#837bee"/><circle cx="60.78" cy="3.56" r="3.500" fill="#837bee"/><circle cx="67.93" cy="3.56" r="3.500" fill="#837bee"/><circle cx="3.58" cy="10.67" r="3.500" fill="#837bee"/><circle cx="10.73" cy="10.67" r="3.500" fill="#837bee"/><circle cx="17.88" cy="10.67" r="3.500" fill="#837bee"/><circle cx="25.03" cy="10.67" r="3.500" fill="#837bee"/><circle cx="32.18" cy="10.67" r="3.500" fill="#837bee"/><circle cx="39.33" cy="10.67" r="3.500" fill="#837bee"/><circle cx="46.48" cy="10.67" r="3.500" fill="#837bee"/><circle cx="53.63" cy="10.67" r="3.500" fill="#837bee"/><circle cx="60.78" cy="10.67" r="3.500" fill="#837bee"/><circle cx="67.93" cy="10.67" r="3.500" fill="#837bee"/><circle cx="3.58" cy="17.78" r="3.500" fill="#837bee"/><circle cx="10.73" cy="17.78" r="3.500" fill="#837bee"/><circle cx="17.88" cy="17.78" r="3.500" fill="#837bee"/><circle cx="25.03" cy="17.78" r="3.500" fill="#837bee"/><circle cx="32.18" cy="17.78" r="3.500" fill="#837bee"/><circle cx="39.33" cy="17.78" r="3.500" fill="#837bee"/><circle cx="46.48" cy="17.78" r="3.500" fill="#837bee"/><circle cx="53.63" cy="17.78" r="3.500" fill="#837bee"/><circle cx="60.78" cy="17.78" r="3.500" fill="#837bee"/><circle cx="67.93" cy="17.78" r="3.500" fill="#837bee"/><circle cx="3.58" cy="24.89" r="3.500" fill="#837bee"/><circle cx="10.73" cy="24.89" r="3.500" fill="#837bee"/><circle cx="17.88" cy="24.89" r="3.500" fill="#837bee"/><circle cx="25.03" cy="24.89" r="3.500" fill="#837bee"/><circle cx="32.18" cy="24.89" r="3.500" fill="#837bee"/><circle cx="39.33" cy="24.89" r="3.500" fill="#837bee"/><circle cx="46.48" cy="24.89" r="3.500" fill="#837bee"/><circle cx="53.63" cy="24.89" r="3.500" fill="#837bee"/><circle cx="60.78" cy="24.89" r="3.500" fill="#837bee"/><circle cx="67.93" cy="24.89" r="3.500" fill="#837bee"/><circle cx="3.58" cy="32.00" r="3.500" fill="#837bee"/><circle cx="10.73" cy="32.00" r="3.500" fill="#837bee"/><circle cx="17.88" cy="32.00" r="3.500" fill="#837bee"/><circle cx="25.03" cy="32.00" r="3.500" fill="#837bee"/><circle cx="32.18" cy="32.00" r="3.500" fill="#837bee"/><circle cx="39.33" cy="32.00" r="3.500" fill="#837bee"/><circle cx="46.48" cy="32.00" r="3.500" fill="#837bee"/><circle cx="53.63" cy="32.00" r="3.500" fill="#837bee"/><circle cx="60.78" cy="32.00" r="3.500" fill="#837bee"/><circle cx="67.93" cy="32.00" r="3.500" fill="#837bee"/><circle cx="3.58" cy="39.11" r="3.500" fill="#837bee"/><circle cx="10.73" cy="39.11" r="3.500" fill="#837bee"/><circle cx="17.88" cy="39.11" r="3.500" fill="#837bee"/><circle cx="25.03" cy="39.11" r="3.500" fill="#837bee"/><circle cx="32.18" cy="39.11" r="3.500" fill="#837bee"/><circle cx="39.33" cy="39.11" r="3.500" fill="#837bee"/><circle cx="46.48" cy="39.11" r="3.500" fill="#837bee"/><circle cx="53.63" cy="39.11" r="3.500" fill="#837bee"/><circle cx="60.78" cy="39.11" r="3.500" fill="#837bee"/><circle cx="67.93" cy="39.11" r="3.500" fill="#837bee"/><circle cx="3.58" cy="46.22" r="3.500" fill="#837bee"/><circle cx="10.73" cy="46.22" r="3.500" fill="#837bee"/><circle cx="17.88" cy="46.22" r="3.500" fill="#837bee"/><circle cx="25.03" cy="46.22" r="3.500" fill="#837bee"/><circle cx="32.18" cy="46.22" r="3.500" fill="#837bee"/><circle cx="39.33" cy="46.22" r="3.500" fill="#837bee"/><circle cx="46.48" cy="46.22" r="3.500" fill="#837bee"/><circle cx="53.63" cy="46.22" r="3.500" fill="#837bee"/><circle cx="60.78" cy="46.22" r="3.500" fill="#837bee"/><circle cx="67.93" cy="46.22" r="3.500" fill="#837bee"/><circle cx="3.58" cy="53.33" r="3.500" fill="#837bee"/><circle cx="10.73" cy="53.33" r="3.500" fill="#837bee"/><circle cx="17.88" cy="53.33" r="3.500" fill="#837bee"/><circle cx="25.03" cy="53.33" r="3.500" fill="#837bee"/><circle cx="32.18" cy="53.33" r="3.500" fill="#837bee"/><circle cx="39.33" cy="53.33" r="3.500" fill="#837bee"/><circle cx="46.48" cy="53.33" r="3.500" fill="#837bee"/><circle cx="53.63" cy="53.33" r="3.500" fill="#837bee"/><circle cx="60.78" cy="53.33" r="3.500" fill="#837bee"/><circle cx="67.93" cy="53.33" r="3.500" fill="#837bee"/><circle cx="3.58" cy="60.44" r="3.500" fill="#837bee"/><circle cx="10.73" cy="60.44" r="3.500" fill="#837bee"/><circle cx="17.88" cy="60.44" r="3.500" fill="#837bee"/><circle cx="25.03" cy="60.44" r="3.500" fill="#837bee"/><circle cx="32.18" cy="60.44" r="3.500" fill="#837bee"/><circle cx="39.33" cy="60.44" r="3.500" fill="#837bee"/><circle cx="46.48" cy="60.44" r="3.500" fill="#837bee"/><circle cx="53.63" cy="60.44" r="3.500" fill="#837bee"/><circle cx="60.78" cy="60.44" r="3.500" fill="#837bee"/><circle cx="67.93" cy="60.44" r="3.500" fill="#837bee"/><circle cx="3.58" cy="67.55" r="3.500" fill="#837bee"/><circle cx="10.73" cy="67.55" r="3.500" fill="#837bee"/><circle cx="17.88" cy="67.55" r="3.500" fill="#837bee"/><circle cx="25.03" cy="67.55" r="3.500" fill="#837bee"/><circle cx="32.18" cy="67.55" r="3.500" fill="#837bee"/><circle cx="39.33" cy="67.55" r="3.500" fill="#837bee"/><circle cx="46.48" cy="67.55" r="3.500" fill="#837bee"/><circle cx="53.63" cy="67.55" r="3.500" fill="#837bee"/><circle cx="60.78" cy="67.55" r="3.500" fill="#dcdee4"/><circle cx="67.93" cy="67.55" r="3.500" fill="#ea6a70"/></svg>
<span class="t" style="font-size:5.0px;color:#6d62e0;transform-origin:50% 0;transform:translate(553.40px,525.66px) translate(-50%,0) rotate(.03deg);">Windows</span>
<span class="t" style="font-size:6.2px;color:#333;font-weight:700;transform-origin:50% 0;transform:translate(553.40px,533.82px) translate(-50%,0) rotate(.03deg);">98%</span>
<span class="t" style="font-size:5.0px;color:#999;transform-origin:50% 0;transform:translate(598.00px,525.66px) translate(-50%,0) rotate(.03deg);">Linux</span>
<span class="t" style="font-size:6.2px;color:#333;font-weight:700;transform-origin:50% 0;transform:translate(598.00px,533.82px) translate(-50%,0) rotate(.03deg);">1%</span>
<span class="t" style="font-size:5.0px;color:#e9646c;transform-origin:50% 0;transform:translate(640.00px,525.66px) translate(-50%,0) rotate(.03deg);">Mobile</span>
<span class="t" style="font-size:6.2px;color:#333;font-weight:700;transform-origin:50% 0;transform:translate(640.00px,533.82px) translate(-50%,0) rotate(.03deg);">1%</span>
<svg class="b" style="left:578px;top:525px" width="1" height="15"><rect x="0.00" y="0.00" width="0.40" height="15.00" fill="#f3f3f3"/></svg>
<svg class="b" style="left:619px;top:525px" width="1" height="15"><rect x="0.50" y="0.00" width="0.40" height="15.00" fill="#f3f3f3"/></svg>
<span class="t" style="font-size:6.9px;color:#222;font-weight:700;transform:translate(710.50px,399.28px) rotate(.03deg) scaleX(0.9171);">TI Trends</span>
<svg class="b" style="left:742.50px;top:398.90px" width="6.200" height="6.200" viewBox="0 0 10 10"><circle cx="5" cy="5" r="4.300" fill="none" stroke="#ccc" stroke-width=".800"/><path d="M5 4.300v3M5 2.600v.8" stroke="#ccc" stroke-width=".900"/></svg>
<svg class="b" style="left:710px;top:414px" width="32" height="13"><rect x="0.50" y="0.50" width="31.30" height="12.00" rx="1" fill="#e7e9ef"/></svg>
<span class="t" style="font-size:4.4px;color:#555;transform:translate(713.80px,418.93px) rotate(.03deg);">Kimsuky</span>
<span class="t" style="font-size:4.9px;color:#333;font-weight:700;transform-origin:100% 0;transform:translate(738.60px,419.05px) translate(-100%,0) rotate(.03deg);">27</span>
<svg class="b" style="left:710px;top:430px" width="26" height="13"><rect x="0.50" y="0.83" width="24.60" height="12.00" rx="1" fill="#e7e9ef"/></svg>
<span class="t" style="font-size:4.4px;color:#555;transform:translate(713.80px,435.26px) rotate(.03deg);">DDW</span>
<span class="t" style="font-size:4.9px;color:#333;font-weight:700;transform-origin:100% 0;transform:translate(731.90px,435.38px) translate(-100%,0) rotate(.03deg);">24</span>
<svg class="b" style="left:710px;top:447px" width="31" height="13"><rect x="0.50" y="0.16" width="30.00" height="12.00" rx="1" fill="#e7e9ef"/></svg>
<span class="t" style="font-size:4.4px;color:#555;transform:translate(713.80px,451.59px) rotate(.03deg);">Lazarus</span>
<span class="t" style="font-size:4.9px;color:#333;font-weight:700;transform-origin:100% 0;transform:translate(737.30px,451.71px) translate(-100%,0) rotate(.03deg);">17</span>
<svg class="b" style="left:710px;top:463px" width="41" height="13"><rect x="0.50" y="0.49" width="40.50" height="12.00" rx="1" fill="#e7e9ef"/></svg>
<span class="t" style="font-size:4.4px;color:#555;transform:translate(713.80px,467.92px) rotate(.03deg);">Ransomware</span>
<span class="t" style="font-size:4.9px;color:#333;font-weight:700;transform-origin:100% 0;transform:translate(747.80px,468.04px) translate(-100%,0) rotate(.03deg);">15</span>
<svg class="b" style="left:710px;top:479px" width="40" height="13"><rect x="0.50" y="0.82" width="39.30" height="12.00" rx="1" fill="#e7e9ef"/></svg>
<span class="t" style="font-size:4.4px;color:#555;transform:translate(713.80px,484.25px) rotate(.03deg);">Vulnerability</span>
<span class="t" style="font-size:4.9px;color:#333;font-weight:700;transform-origin:100% 0;transform:translate(746.60px,484.37px) translate(-100%,0) rotate(.03deg);">13</span>
<svg class="b" style="left:710px;top:496px" width="33" height="13"><rect x="0.50" y="0.15" width="32.00" height="12.00" rx="1" fill="#e7e9ef"/></svg>
<span class="t" style="font-size:4.4px;color:#555;transform:translate(713.80px,500.58px) rotate(.03deg);">BlackCat</span>
<span class="t" style="font-size:4.9px;color:#333;font-weight:700;transform-origin:100% 0;transform:translate(739.30px,500.70px) translate(-100%,0) rotate(.03deg);">12</span>
<svg class="b" style="left:710px;top:512px" width="33" height="13"><rect x="0.50" y="0.48" width="32.50" height="12.00" rx="1" fill="#e7e9ef"/></svg>
<span class="t" style="font-size:4.4px;color:#555;transform:translate(713.80px,516.91px) rotate(.03deg);">DarkWeb</span>
<span class="t" style="font-size:4.9px;color:#333;font-weight:700;transform-origin:100% 0;transform:translate(739.80px,517.03px) translate(-100%,0) rotate(.03deg);">11</span>
<svg class="b" style="left:710px;top:528px" width="23" height="13"><rect x="0.50" y="0.81" width="22.40" height="12.00" rx="1" fill="#e7e9ef"/></svg>
<span class="t" style="font-size:4.4px;color:#555;transform:translate(713.80px,533.24px) rotate(.03deg);">RCE</span>
<span class="t" style="font-size:4.9px;color:#333;font-weight:700;transform-origin:100% 0;transform:translate(729.70px,533.36px) translate(-100%,0) rotate(.03deg);">11</span>
</div></div>
<div id="edge"></div>
</body></html>
